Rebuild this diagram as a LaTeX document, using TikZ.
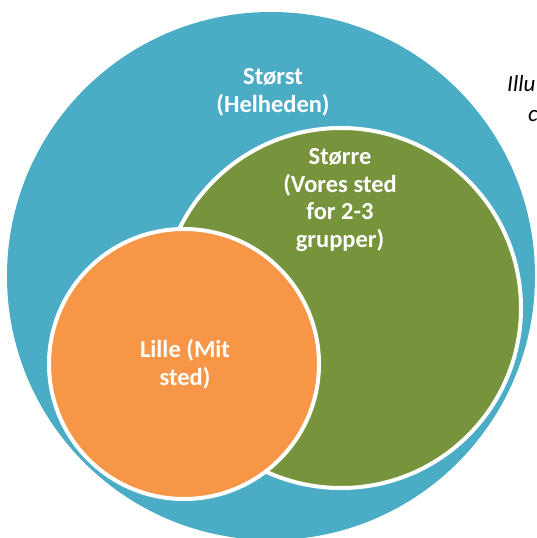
\documentclass[tikz,border=0pt]{standalone}
\usepackage{fontspec}
\setmainfont{Carlito}
\definecolor{bigblue}{HTML}{4BACC6}
\definecolor{midgreen}{HTML}{77933C}
\definecolor{smallorange}{HTML}{F79646}
\begin{document}
\begin{tikzpicture}[x=1pt,y=-1pt,
  ring/.style={draw=white,line width=4pt},
  lbl/.style={text=white,font=\fontsize{24.5}{27.5}\selectfont\bfseries,align=center,inner sep=0pt,anchor=base},
  note/.style={text=black,font=\fontsize{23}{26}\selectfont\itshape,inner sep=0pt,anchor=base west}]
\useasboundingbox (0,0) rectangle (536,538);
\clip (0,0) rectangle (536,538);
\fill[bigblue] (271,276) circle (264);
\path[ring,fill=midgreen] (341,308) circle (180);
\path[ring,fill=smallorange] (184,364) circle (135);
\node[lbl] (storst) at (273,112) {Størst\\(Helheden)};
\node[lbl] (storre) at (340,247) {Større\\(Vores sted\\for 2-3\\grupper)};
\node[lbl] (lille) at (185,385) {Lille (Mit\\sted)};
\node[note] (illu) at (507,91) {Illu};
\node[note] (c) at (528,121) {c};
\end{tikzpicture}
\end{document}
